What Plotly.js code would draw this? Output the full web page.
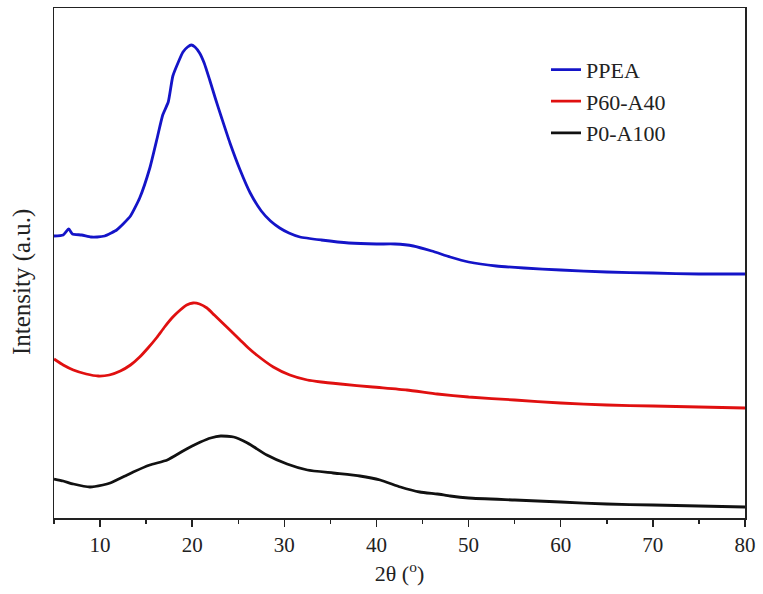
<!DOCTYPE html>
<html>
<head>
<meta charset="utf-8">
<script src="https://cdn.plot.ly/plotly-3.0.1.min.js"></script>
<style>html,body{margin:0;padding:0;background:#fff;}#chart{width:763px;height:594px;}</style>
</head>
<body>
<div id="chart"></div>
<script>
// 2θ (degrees) and intensity (a.u.)
const ppeaX = [5, 6, 6.6, 7, 8, 9, 9.7, 10.5, 11.2, 11.8, 12.5, 13.3, 14.3, 15.4, 16.2, 16.8, 17.4, 17.9, 18.5, 19.0, 19.5, 19.9, 20.3, 20.8, 21.3, 21.9, 22.5, 23.2, 24.1, 25.2, 26.3, 27.5, 28.5, 29.5, 30.5, 31.7, 34, 37, 40, 42, 44, 46, 48, 50, 53, 56, 60, 65, 70, 75, 80];
const ppeaY = [282, 283, 289, 284, 283, 281, 281, 282, 285, 288, 294, 302, 320, 350, 380, 403, 416, 442, 456, 466, 471, 473, 471, 465, 455, 438, 420, 400, 375, 348, 325, 307, 297, 290, 285, 281, 278, 275, 274, 274, 272, 267, 261, 256, 252, 250, 248, 246, 245, 244, 244];

const p60X = [5, 6, 7.1, 8.5, 9.8, 11, 12.2, 13.3, 14.3, 15.2, 16.2, 17.0, 17.9, 18.7, 19.4, 20.1, 20.8, 21.6, 22.4, 23.3, 24.2, 25.2, 26.1, 27.0, 28.8, 30.6, 32.5, 34, 36.1, 39.6, 43.3, 46.6, 50, 55, 60, 65, 70, 75, 80];
const p60Y = [159, 153, 148, 144, 142, 143, 147, 153, 161, 170, 181, 191, 201, 208, 213, 215, 214, 210, 203, 195, 187, 178, 170, 163, 151, 143, 138, 136, 134, 131, 128, 124, 121, 118, 115, 113, 112, 111, 110];

const p0X = [5, 6, 7.1, 8.9, 10.3, 11.1, 11.8, 12.7, 13.6, 15.4, 17.3, 19.0, 20.0, 20.9, 22, 23.1, 24.5, 26.0, 28.1, 30.3, 32.5, 35.3, 38.2, 40.4, 42.6, 44.7, 46.6, 48, 50, 55, 60, 65, 70, 75, 80];
const p0Y = [39, 37, 34, 31, 33, 35, 38, 42, 46, 53, 58, 67, 72, 76, 80, 82, 81, 75, 63, 54, 48, 45, 42, 38, 31, 26, 24, 22, 20, 18, 16, 14, 13, 12, 11];

const names = ['PPEA', 'P60-A40', 'P0-A100'];
const colors = ['#1414c8', '#e01010', '#111111'];
const xTicks = [10, 20, 30, 40, 50, 60, 70, 80];

const font = 'Liberation Serif, Times New Roman, serif';
const series = [[ppeaX, ppeaY], [p60X, p60Y], [p0X, p0Y]];
const traces = series.map((s, i) => ({
  x: s[0], y: s[1], name: names[i], type: 'scatter', mode: 'lines',
  line: {color: colors[i], width: 2.8, shape: 'spline', smoothing: 0.5}
}));

const layout = {
  width: 763, height: 594,
  margin: {l: 54, r: 18, t: 8, b: 76},
  paper_bgcolor: '#fff', plot_bgcolor: '#fff',
  font: {family: font, color: '#222', size: 21},
  showlegend: true,
  legend: {x: 0.712, y: 0.92, xanchor: 'left', yanchor: 'top', bgcolor: 'rgba(0,0,0,0)',
           font: {family: font, size: 22, color: '#222'}, traceorder: 'normal'},
  xaxis: {
    range: [5, 80], tickvals: xTicks, ticktext: xTicks.map(String),
    ticks: 'outside', ticklen: 7, tickwidth: 1.5, tickcolor: '#222',
    minor: {dtick: 5, tick0: 5, ticks: 'outside', ticklen: 4, tickwidth: 1.5, tickcolor: '#222'},
    showline: true, linecolor: '#222', linewidth: 1.5, mirror: true,
    showgrid: false, zeroline: false,
    tickfont: {family: font, size: 21, color: '#222'},
    title: {text: '2θ (<sup>o</sup>)', font: {family: font, size: 22, color: '#222'}, standoff: 10}
  },
  yaxis: {
    range: [0, 510], showticklabels: false, ticks: '',
    showline: true, linecolor: '#222', linewidth: 1.5, mirror: true,
    showgrid: false, zeroline: false
  },
  annotations: [{
    text: 'Intensity (a.u.)', textangle: -90, showarrow: false,
    xref: 'paper', yref: 'paper', x: -0.046, y: 0.463, xanchor: 'center', yanchor: 'middle',
    font: {family: font, size: 25, color: '#222'}
  }]
};

Plotly.newPlot('chart', traces, layout, {displayModeBar: false, staticPlot: true});
</script>
</body>
</html>
